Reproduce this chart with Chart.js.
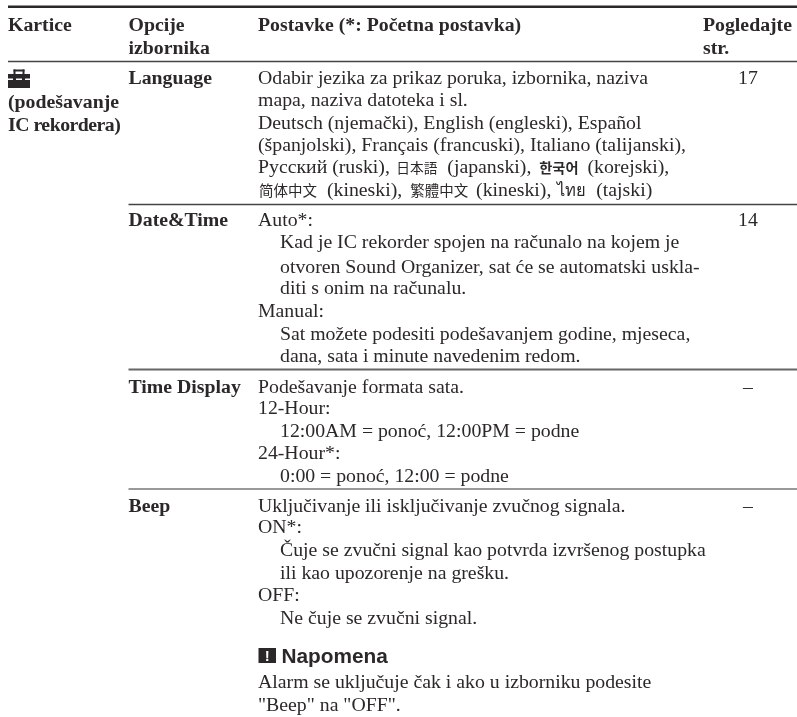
<!DOCTYPE html>
<html>
<head>
<meta charset="utf-8">
<title>Kartice</title>
<script src="https://cdn.jsdelivr.net/npm/chart.js@4"></script>
<style>
html, body { margin: 0; padding: 0; background: #fff; }
canvas { display: block; }
</style>
</head>
<body>
<canvas id="tableChart" width="797" height="717"></canvas>
<script>
// Table content
const headerTabs = ['Kartice'];
const headerOptions = ['Opcije', 'izbornika'];
const headerSettings = ['Postavke (*: Početna postavka)'];
const headerPages = ['Pogledajte', 'str.'];
const tabLabels = ['(podešavanje', 'IC rekordera)'];
const optionNames = ['Language', 'Date&Time', 'Time Display', 'Beep'];
const pageRefs = ['17', '14', '–', '–'];
const settingsLines = [
    'Odabir jezika za prikaz poruka, izbornika, naziva',
    'mapa, naziva datoteka i sl.',
    'Deutsch (njemački), English (engleski), Español',
    '(španjolski), Français (francuski), Italiano (talijanski),',
    'Русский (ruski), 日本語 (japanski), 한국어 (korejski),',
    '简体中文 (kineski), 繁體中文 (kineski), ไทย (tajski)',
    'Auto*:',
    'Kad je IC rekorder spojen na računalo na kojem je',
    'otvoren Sound Organizer, sat će se automatski uskla-',
    'diti s onim na računalu.',
    'Manual:',
    'Sat možete podesiti podešavanjem godine, mjeseca,',
    'dana, sata i minute navedenim redom.',
    'Podešavanje formata sata.',
    '12-Hour:',
    '12:00AM = ponoć, 12:00PM = podne',
    '24-Hour*:',
    '0:00 = ponoć, 12:00 = podne',
    'Uključivanje ili isključivanje zvučnog signala.',
    'ON*:',
    'Čuje se zvučni signal kao potvrda izvršenog postupka',
    'ili kao upozorenje na grešku.',
    'OFF:',
    'Ne čuje se zvučni signal.'
];
const noteTitle = 'Napomena';
const noteLines = ['Alarm se uključuje čak i ako u izborniku podesite', '"Beep" na "OFF".'];

// Layout, in page units of the two scales
const COL_TAB = 8, COL_OPTION = 128.5, COL_SETTING = 258, COL_INDENT = 280, COL_PAGE = 703, COL_PAGE_MID = 748, RIGHT = 797;
const settingsBaselines = [83.5, 105.5, 128.5, 150.5, 173, 195.5, 225.5, 247.5, 272.5, 293.5, 316.5, 339.5, 361.5, 392.5, 413.5, 436.5, 458.5, 481.5, 511.5, 532.5, 555.5, 578.5, 600.5, 623.5];
const settingsIndented = [0, 0, 0, 0, 0, 0, 0, 1, 1, 1, 0, 1, 1, 0, 0, 1, 0, 1, 0, 0, 1, 1, 0, 1];
const optionBaselines = [83.5, 225.5, 392.5, 511.5];
const headerBaselines = [30.5, 53.5];
const tabBaselines = [108, 131];
const tabSpacing = ['0px', '-0.5px'];
const noteBaselines = [687.5, 710.5];
const ruleLevels = [6.7, 61.5, 204.5, 369.5, 489];
const ruleStarts = [COL_TAB, COL_TAB, COL_OPTION, COL_OPTION, COL_OPTION];
const ruleWidths = [2.4, 1.5, 1.5, 1.8, 1.3];
const ruleColors = ['#2b2829', '#444', '#444', '#666', '#777'];

const INK = '#2b2829';
const SERIF = '19.8px "Liberation Serif"';
const SERIF_BOLD = 'bold 19.8px "Liberation Serif"';
// font, shift before the run, gap after it
const otherScripts = {
    '日本語': { font: '13.7px "Noto Sans CJK JP"', before: 1.5, after: 5 },
    '한국어': { font: 'bold 14.2px "Noto Sans CJK KR"', before: 3, after: 4 },
    '简体中文': { font: '14.5px "Noto Sans CJK SC"', before: 1, after: 5 },
    '繁體中文': { font: '14.5px "Noto Sans CJK TC"', before: 3, after: 3 },
    'ไทย': { font: '16.5px "Noto Sans", "DejaVu Sans"', before: 1, after: 5 }
};

// Latin text with the CJK and Thai names set in their own font
function drawLine(ctx, text, x, y) {
    const runs = text.split(/(日本語|한국어|简体中文|繁體中文|ไทย)/);
    let cursor = x;
    runs.forEach(run => {
        if (!run) return;
        const other = otherScripts[run];
        ctx.font = other ? other.font : SERIF;
        if (other) cursor += other.before;
        ctx.fillText(run, cursor, y);
        cursor += ctx.measureText(run).width + (other ? other.after : 0);
    });
}

const tablePlugin = {
    id: 'tableText',
    afterDatasetsDraw(chart) {
        const ctx = chart.ctx;
        const px = v => chart.scales.x.getPixelForValue(v);
        const py = v => chart.scales.y.getPixelForValue(v);
        const box = (x0, y0, x1, y1) => ctx.fillRect(px(x0), py(y0), px(x1) - px(x0), py(y1) - py(y0));
        ctx.save();
        ctx.fillStyle = INK;
        ctx.textBaseline = 'alphabetic';
        ctx.textAlign = 'left';

        // Header row
        ctx.font = SERIF_BOLD;
        ctx.fillText(headerTabs[0], px(COL_TAB), py(headerBaselines[0]));
        headerOptions.forEach((t, i) => ctx.fillText(t, px(COL_OPTION), py(headerBaselines[i])));
        ctx.fillText(headerSettings[0], px(COL_SETTING), py(headerBaselines[0]));
        headerPages.forEach((t, i) => ctx.fillText(t, px(COL_PAGE), py(headerBaselines[i])));

        // First column and option names
        tabLabels.forEach((t, i) => {
            ctx.letterSpacing = tabSpacing[i];
            ctx.fillText(t, px(COL_TAB), py(tabBaselines[i]));
        });
        ctx.letterSpacing = '0px';
        optionNames.forEach((t, i) => ctx.fillText(t, px(COL_OPTION), py(optionBaselines[i])));

        // Settings text
        settingsLines.forEach((t, i) => {
            drawLine(ctx, t, px(settingsIndented[i] ? COL_INDENT : COL_SETTING), py(settingsBaselines[i]));
        });

        // Page references
        ctx.font = SERIF;
        ctx.textAlign = 'center';
        pageRefs.forEach((t, i) => ctx.fillText(t, px(COL_PAGE_MID), py(optionBaselines[i])));
        ctx.textAlign = 'left';

        // Toolbox icon
        box(8, 74, 30, 88);
        box(13.5, 69.5, 24.5, 71.5);
        box(13.5, 69.5, 15.5, 74);
        box(22.5, 69.5, 24.5, 74);
        ctx.fillStyle = '#fff';
        box(8, 78.5, 30, 80);
        ctx.fillStyle = INK;
        box(13, 77.5, 16, 81.5);
        box(22, 77.5, 25, 81.5);

        // Note block
        box(258.5, 648, 276, 663);
        ctx.fillStyle = '#fff';
        ctx.font = 'bold 15px "Liberation Sans"';
        ctx.textAlign = 'center';
        ctx.fillText('!', px(267.2), py(661));
        ctx.textAlign = 'left';
        ctx.fillStyle = INK;
        ctx.font = 'bold 20.8px "Liberation Sans"';
        ctx.fillText(noteTitle, px(281.5), py(662.7));
        ctx.font = SERIF;
        noteLines.forEach((t, i) => ctx.fillText(t, px(COL_SETTING), py(noteBaselines[i])));
        ctx.restore();
    }
};

// Rules are line datasets on the page scales
const ruleDatasets = ruleLevels.map((level, i) => ({
    data: [{ x: ruleStarts[i], y: level }, { x: RIGHT, y: level }],
    showLine: true,
    borderColor: ruleColors[i],
    borderWidth: ruleWidths[i],
    pointRadius: 0
}));

new Chart(document.getElementById('tableChart').getContext('2d'), {
    type: 'scatter',
    data: { datasets: ruleDatasets },
    options: {
        responsive: false,
        animation: false,
        layout: { padding: 0 },
        plugins: { legend: { display: false }, tooltip: { enabled: false }, title: { display: false } },
        scales: {
            x: { type: 'linear', display: false, min: 0, max: RIGHT },
            y: { type: 'linear', display: false, min: 0, max: 717, reverse: true }
        }
    },
    plugins: [tablePlugin]
});
</script>
</body>
</html>
